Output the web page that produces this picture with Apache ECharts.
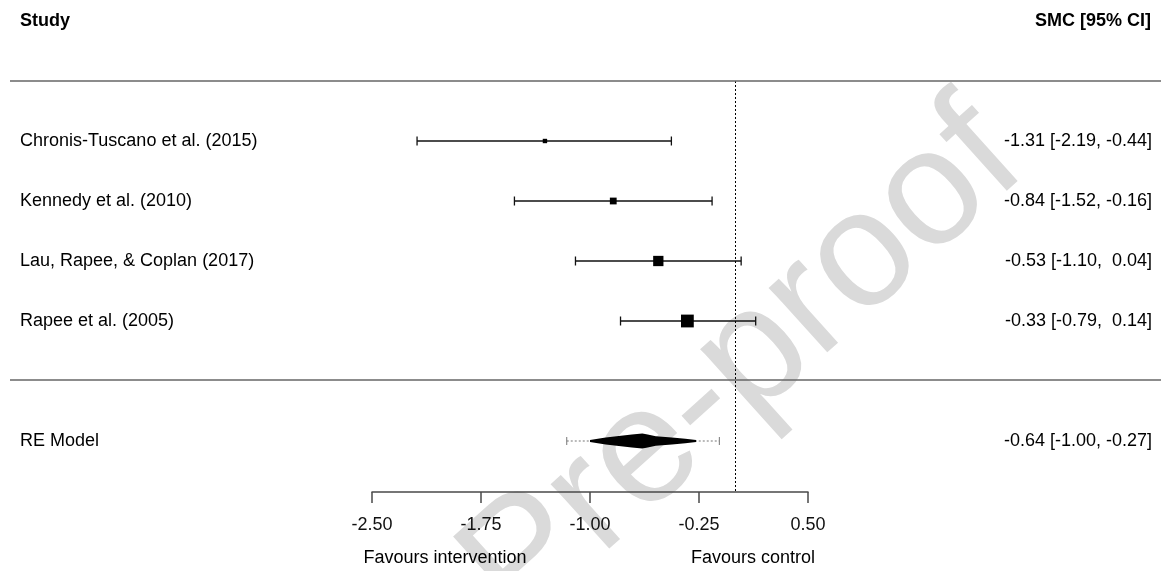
<!DOCTYPE html>
<html><head><meta charset="utf-8">
<script src="https://cdn.jsdelivr.net/npm/echarts@6/dist/echarts.min.js"></script>
<style>html,body{margin:0;padding:0;background:#fff}#c{width:1161px;height:571px}</style>
</head><body><div id="c"></div>
<script>
// ---- data ----
const studies = ['Chronis-Tuscano et al. (2015)', 'Kennedy et al. (2010)', 'Lau, Rapee, & Coplan (2017)', 'Rapee et al. (2005)'];
const estimates = [-1.31, -0.84, -0.53, -0.33];
const ciLower = [-2.19, -1.52, -1.10, -0.79];
const ciUpper = [-0.44, -0.16, 0.04, 0.14];
const weights = [11.7, 19.3, 30.5, 38.5];
const summaryLabel = 'RE Model';
const summaryValues = [-0.64, -1.00, -0.27];   // estimate, lower, upper
const predInterval = [-1.16, -0.11];
const xTicks = [-2.50, -1.75, -1.00, -0.25, 0.50];
const headerLeft = 'Study';
const headerRight = 'SMC [95% CI]';
const xLabelLeft = 'Favours intervention';
const xLabelRight = 'Favours control';
const watermark = 'Pre-proof';

// ---- helpers ----
const FONT = '"Liberation Sans", Arial, Helvetica, sans-serif';
function fmt(v) { return (v < 0 ? '' : ' ') + v.toFixed(2); }
function ciText(e, l, u) { return fmt(e) + ' [' + fmt(l) + ', ' + fmt(u) + ']'; }
const wMin = Math.min(...weights), wMax = Math.max(...weights);
const summaryRow = studies.length + 1;

const chart = echarts.init(document.getElementById('c'), null, { renderer: 'canvas' });

const studyData = studies.map((s, i) => [estimates[i], i, ciLower[i], ciUpper[i], weights[i]]);

function textEl(x, y, txt, align, weight) {
  return {
    type: 'text', x: x, y: y, z: 10,
    style: { text: txt, fill: '#000', font: (weight ? weight + ' ' : '') + '18px ' + FONT, textAlign: align, textVerticalAlign: 'middle' }
  };
}

const option = {
  animation: false,
  backgroundColor: '#fff',
  grid: { left: 372, right: 353, top: 81, bottom: 79, containLabel: false },
  xAxis: {
    type: 'value', min: xTicks[0], max: xTicks[xTicks.length - 1], interval: 0.75,
    position: 'bottom',
    axisLine: { show: true, onZero: false, lineStyle: { color: '#4a4a4a', width: 1.5 } },
    axisTick: { show: true, length: 11, lineStyle: { color: '#4a4a4a', width: 1.5 } },
    axisLabel: { show: true, formatter: v => v.toFixed(2), fontSize: 18, fontFamily: FONT, color: '#111', margin: 24 },
    splitLine: { show: false }
  },
  yAxis: { type: 'value', inverse: true, min: -1, max: 5.85, show: false },
  graphic: [
    { type: 'text', z: -10, silent: true, x: 744, y: 366, rotation: 42 * Math.PI / 180,
      style: { text: watermark, fill: '#dadada', font: '165px ' + FONT, textAlign: 'center', textVerticalAlign: 'middle' } },
    textEl(20, 21, headerLeft, 'left', 'bold'),
    textEl(1151, 21, headerRight, 'right', 'bold'),
    { type: 'line', z: 10, shape: { x1: 10, y1: 81, x2: 1161, y2: 81 }, style: { stroke: '#666', lineWidth: 1.5 } },
    { type: 'line', z: 10, shape: { x1: 10, y1: 380, x2: 1161, y2: 380 }, style: { stroke: '#666', lineWidth: 1.5 } },
    textEl(445, 558, xLabelLeft, 'center'),
    textEl(753, 558, xLabelRight, 'center')
  ],
  series: [
    {
      type: 'custom', name: 'studies', clip: false,
      data: studyData,
      renderItem: function (params, api) {
        const row = api.value(1);
        const pe = api.coord([api.value(0), row]);
        const pl = api.coord([api.value(2), row]);
        const ph = api.coord([api.value(3), row]);
        const w = api.value(4);
        const size = 4.4 + 8.4 * (w - wMin) / (wMax - wMin);
        const y = pe[1];
        const lineStyle = { stroke: '#111', lineWidth: 1.3 };
        const i = params.dataIndex;
        return {
          type: 'group',
          children: [
            { type: 'line', shape: { x1: pl[0], y1: y, x2: ph[0], y2: y }, style: lineStyle },
            { type: 'line', shape: { x1: pl[0], y1: y - 4.5, x2: pl[0], y2: y + 4.5 }, style: lineStyle },
            { type: 'line', shape: { x1: ph[0], y1: y - 4.5, x2: ph[0], y2: y + 4.5 }, style: lineStyle },
            { type: 'rect', shape: { x: pe[0] - size / 2, y: y - size / 2, width: size, height: size }, style: { fill: '#000' } },
            { type: 'text', x: 20, y: y, style: { text: studies[i], fill: '#000', font: '18px ' + FONT, textAlign: 'left', textVerticalAlign: 'middle' } },
            { type: 'text', x: api.getWidth() - 9, y: y, style: { text: ciText(estimates[i], ciLower[i], ciUpper[i]), fill: '#000', font: '18px ' + FONT, textAlign: 'right', textVerticalAlign: 'middle' } }
          ]
        };
      },
      markLine: {
        silent: true, symbol: ['none', 'none'],
        label: { show: false },
        lineStyle: { type: [2, 2], color: '#000', width: 1 },
        data: [{ xAxis: 0 }]
      }
    },
    {
      type: 'custom', name: 'summary', clip: false,
      data: [[summaryValues[0], summaryRow, summaryValues[1], summaryValues[2], predInterval[0], predInterval[1]]],
      renderItem: function (params, api) {
        const row = api.value(1);
        const pe = api.coord([api.value(0), row]);
        const pl = api.coord([api.value(2), row]);
        const ph = api.coord([api.value(3), row]);
        const ql = api.coord([api.value(4), row]);
        const qh = api.coord([api.value(5), row]);
        const y = pe[1];
        const leftProf = [[0, 1], [0.15, 2.2], [0.3, 3.6], [0.55, 5], [0.8, 6.5], [1, 7.5]];
        const rightProf = [[0, 1], [0.2, 2.2], [0.45, 3.5], [0.75, 4.8], [0.9, 6.5], [1, 7.5]];
        const top = [];
        leftProf.forEach(([f, h]) => top.push([pl[0] + (pe[0] - pl[0]) * f, y - h]));
        rightProf.slice().reverse().slice(1).forEach(([f, h]) => top.push([ph[0] - (ph[0] - pe[0]) * f, y - h]));
        const pts = top.slice();
        for (let k = top.length - 1; k >= 0; k--) pts.push([top[k][0], 2 * y - top[k][1]]);
        const gray = { stroke: '#777', lineWidth: 1 };
        return {
          type: 'group',
          children: [
            { type: 'line', shape: { x1: ql[0], y1: y, x2: qh[0], y2: y }, style: { stroke: '#777', lineWidth: 1, lineDash: [2, 2] } },
            { type: 'line', shape: { x1: ql[0], y1: y - 4, x2: ql[0], y2: y + 4 }, style: gray },
            { type: 'line', shape: { x1: qh[0], y1: y - 4, x2: qh[0], y2: y + 4 }, style: gray },
            { type: 'polygon', shape: { points: pts }, style: { fill: '#000' } },
            { type: 'text', x: 20, y: y, style: { text: summaryLabel, fill: '#000', font: '18px ' + FONT, textAlign: 'left', textVerticalAlign: 'middle' } },
            { type: 'text', x: api.getWidth() - 9, y: y, style: { text: ciText(summaryValues[0], summaryValues[1], summaryValues[2]), fill: '#000', font: '18px ' + FONT, textAlign: 'right', textVerticalAlign: 'middle' } }
          ]
        };
      }
    }
  ]
};
chart.setOption(option);
</script>
</body></html>
